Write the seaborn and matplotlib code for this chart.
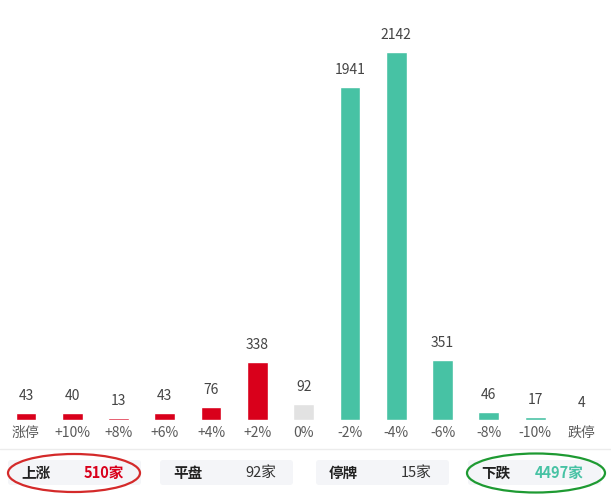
import numpy as np
import pandas as pd
import seaborn as sns
import matplotlib.pyplot as plt
from matplotlib.patches import FancyBboxPatch, Ellipse

# bar chart data
categories = ["涨停", "+10%", "+8%", "+6%", "+4%", "+2%", "0%",
              "-2%", "-4%", "-6%", "-8%", "-10%", "跌停"]
counts = [43, 40, 13, 43, 76, 338, 92, 1941, 2142, 351, 46, 17, 4]

# summary row
summary_labels = ["上涨", "平盘", "停牌", "下跌"]
summary_counts = [510, 92, 15, 4497]

RED = "#D9001B"
TEAL = "#47C2A4"
GRAY = "#E2E2E2"
bar_colors = [RED] * 6 + [GRAY] + [TEAL] * 6

sns.set_theme(style="white")
plt.rcParams["font.family"] = ["Noto Sans CJK SC", "DejaVu Sans"]

df = pd.DataFrame({"cat": categories, "n": counts})

fig = plt.figure(figsize=(6.11, 5.0), dpi=100)
fig.patch.set_facecolor("white")

ax = fig.add_axes([0, 0.16, 1, 0.84])
sns.barplot(data=df, x="cat", y="n", hue="cat", palette=bar_colors,
            legend=False, width=0.45, saturation=1, ax=ax)
ax.set_xlim(-0.56, 12.64)
ax.set_ylim(0, 2445)
ax.set_xlabel("")
ax.set_ylabel("")
ax.set_yticks([])
for s in ax.spines.values():
    s.set_visible(False)
ax.tick_params(axis="x", length=0, pad=4, labelsize=10, labelcolor="#5a5a5a")

for i, v in enumerate(counts):
    ax.annotate(str(v), (i, v), xytext=(0, 7), textcoords="offset points",
                ha="center", va="bottom", fontsize=10, color="#444444")

# summary panel drawn in pixel space
ov = fig.add_axes([0, 0, 1, 1], facecolor="none")
ov.set_xlim(0, 611)
ov.set_ylim(500, 0)
ov.axis("off")

ov.plot([0, 611], [449, 449], color="#ECECEC", lw=1)

box_x = [8, 160, 316, 468]
box_w = 133
value_colors = [RED, "#333333", "#333333", TEAL]
value_weights = ["bold", "normal", "normal", "bold"]
for bx, lab, cnt, vc, vw in zip(box_x, summary_labels, summary_counts,
                                value_colors, value_weights):
    ov.add_patch(FancyBboxPatch((bx, 460), box_w, 25,
                                boxstyle="round,pad=0,rounding_size=3",
                                fc="#F4F5F8", ec="none"))
    ov.text(bx + 13, 473, lab, ha="left", va="center", fontsize=10.5,
            fontweight="bold", color="#222222")
    ov.text(bx + box_w - 17, 473, f"{cnt}家", ha="right", va="center",
            fontsize=10.5, fontweight=vw, color=vc)

ov.add_patch(Ellipse((74, 473), 132, 38, fc="none", ec="#D42A2A", lw=1.6))
ov.add_patch(Ellipse((536, 473), 138, 39, fc="none", ec="#1E9A32", lw=1.6))

fig.savefig("out.png", dpi=100)
